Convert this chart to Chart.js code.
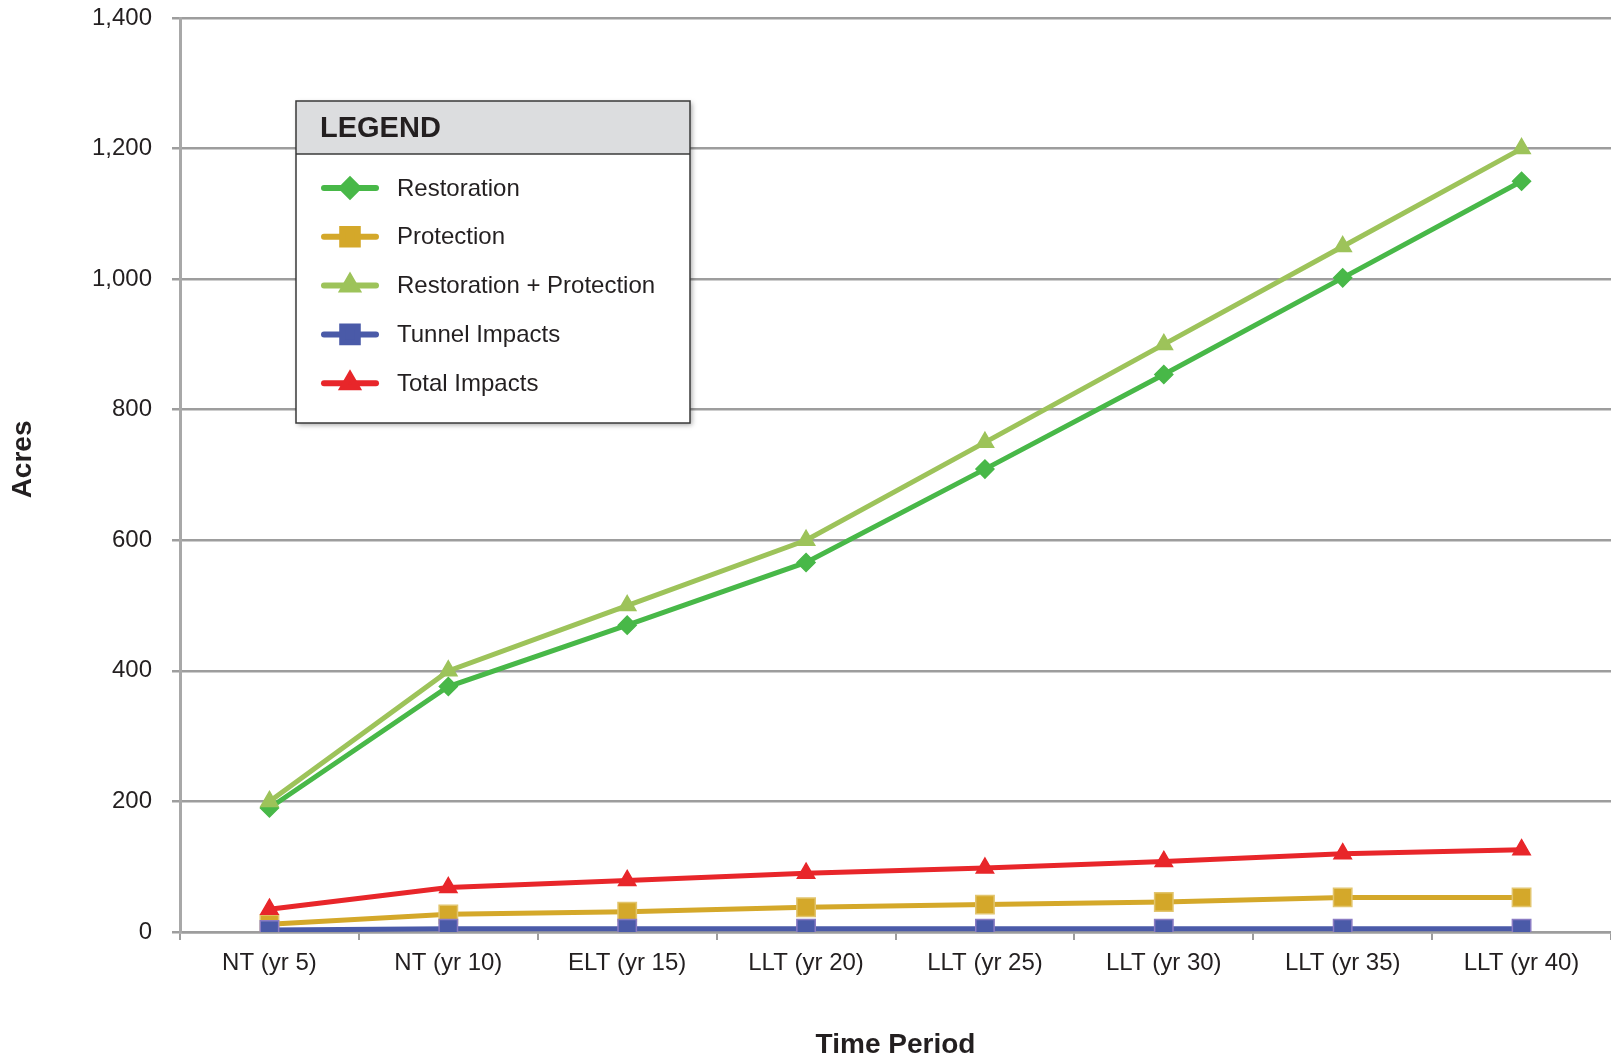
<!DOCTYPE html>
<html lang="en">
<head>
    <meta charset="UTF-8">
    <title>Acres by Time Period</title>
    <script src="https://cdn.jsdelivr.net/npm/chart.js"></script>
    <style>
        html, body { margin: 0; padding: 0; background: #fff; overflow: hidden; }
        .chart-container { position: relative; width: 1611px; height: 1060px; }
    </style>
</head>
<body>
    <div class="chart-container">
        <canvas id="acresChart"></canvas>
    </div>

    <script>
        // categories (x axis)
        const timePeriods = ['NT (yr 5)', 'NT (yr 10)', 'ELT (yr 15)', 'LLT (yr 20)', 'LLT (yr 25)', 'LLT (yr 30)', 'LLT (yr 35)', 'LLT (yr 40)'];

        // series values (acres)
        const restoration = [190, 376, 470, 566, 709, 854, 1002, 1150];
        const protection = [12, 27, 31, 38, 42, 46, 53, 53];
        const restorationPlusProtection = [200, 400, 500, 600, 750, 900, 1050, 1200];
        const tunnelImpacts = [3, 5, 5, 5, 5, 5, 5, 5];
        const totalImpacts = [35, 68, 79, 90, 98, 108, 120, 126];

        // y axis range / step
        const yTicks = [0, 200, 400, 600, 800, 1000, 1200, 1400];

        const FONT = '"Liberation Sans", Arial, Helvetica, sans-serif';
        const TEXT = '#231f20';
        const GRID = '#9d9d9d';

        Chart.defaults.font.family = FONT;
        Chart.defaults.color = TEXT;

        // Boxed legend with a grey "LEGEND" header, drawn from the datasets
        const legendBox = {
            id: 'legendBox',
            afterDraw(chart) {
                const ctx = chart.ctx;
                const left = 296, top = 101, w = 394, h = 322, headerH = 53;

                ctx.save();
                ctx.shadowColor = 'rgba(0,0,0,0.35)';
                ctx.shadowBlur = 5;
                ctx.shadowOffsetX = 2;
                ctx.shadowOffsetY = 2;
                ctx.fillStyle = '#ffffff';
                ctx.fillRect(left, top, w, h);
                ctx.restore();

                ctx.save();
                ctx.fillStyle = '#dcdddf';
                ctx.fillRect(left, top, w, headerH);
                ctx.strokeStyle = '#3a3a3a';
                ctx.lineWidth = 1.5;
                ctx.strokeRect(left, top, w, h);
                ctx.beginPath();
                ctx.moveTo(left, top + headerH);
                ctx.lineTo(left + w, top + headerH);
                ctx.stroke();

                ctx.fillStyle = TEXT;
                ctx.font = 'bold 29px ' + FONT;
                ctx.textBaseline = 'middle';
                ctx.fillText('LEGEND', left + 24, top + 28);

                ctx.font = '24px ' + FONT;
                chart.data.datasets.forEach((ds, i) => {
                    const y = 188 + i * 48.8;
                    ctx.strokeStyle = ds.borderColor;
                    ctx.lineWidth = 6;
                    ctx.lineCap = 'round';
                    ctx.beginPath();
                    ctx.moveTo(324, y);
                    ctx.lineTo(376, y);
                    ctx.stroke();

                    ctx.fillStyle = ds.pointBackgroundColor;
                    ctx.strokeStyle = ds.pointBackgroundColor;
                    Chart.helpers.drawPoint(ctx, {
                        pointStyle: ds.pointStyle,
                        radius: ds.pointStyle === 'rect' ? 11 : 8,
                        rotation: 0,
                        borderWidth: 1
                    }, 350, y);

                    ctx.fillStyle = TEXT;
                    ctx.fillText(ds.label, 397, y + 1);
                });
                ctx.restore();
            }
        };

        function series(label, data, color, style, radius, order, border) {
            return {
                label: label,
                data: data,
                borderColor: color,
                backgroundColor: color,
                pointBackgroundColor: color,
                pointBorderColor: border || color,
                pointBorderWidth: 1.5,
                pointStyle: style,
                pointRadius: radius,
                borderWidth: 5,
                tension: 0,
                fill: false,
                order: order
            };
        }

        // drop the extra room Chart.js keeps for the end labels, so the plot fills the page edges
        function noEdgePadding(scale) {
            scale.paddingTop = 0;
            scale.paddingBottom = 0;
            scale.paddingLeft = 0;
            scale.paddingRight = 0;
        }

        const ctx = document.getElementById('acresChart').getContext('2d');
        new Chart(ctx, {
            type: 'line',
            data: {
                labels: timePeriods,
                datasets: [
                    series('Restoration', restoration, '#48b848', 'rectRot', 9, 1),
                    series('Protection', protection, '#d4a82a', 'rect', 13, 3, '#e2c56e'),
                    series('Restoration + Protection', restorationPlusProtection, '#9dc35a', 'triangle', 10, 0),
                    series('Tunnel Impacts', tunnelImpacts, '#4a5aa8', 'rect', 13, 2, '#8a7cc4'),
                    series('Total Impacts', totalImpacts, '#e8262a', 'triangle', 10, 0)
                ]
            },
            options: {
                responsive: true,
                maintainAspectRatio: false,
                animation: false,
                events: [],
                layout: {
                    autoPadding: false,
                    padding: { top: 18, right: 0, left: 0, bottom: 0 }
                },
                plugins: {
                    legend: { display: false },
                    tooltip: { enabled: false }
                },
                scales: {
                    x: {
                        offset: true,
                        grid: {
                            offset: true,
                            drawOnChartArea: false,
                            drawTicks: true,
                            tickLength: 8,
                            color: GRID,
                            lineWidth: 2
                        },
                        border: { color: GRID, width: 2.5 },
                        ticks: {
                            font: { size: 24 },
                            color: TEXT,
                            padding: 9,
                            maxRotation: 0,
                            autoSkip: false
                        },
                        title: {
                            display: true,
                            text: 'Time Period',
                            font: { size: 28, weight: 'bold', lineHeight: 1 },
                            color: TEXT,
                            padding: { top: 0, bottom: 1 }
                        },
                        afterFit(scale) {
                            scale.height = 128;
                            noEdgePadding(scale);
                        }
                    },
                    y: {
                        min: yTicks[0],
                        max: yTicks[yTicks.length - 1],
                        grid: {
                            color: GRID,
                            lineWidth: 2.5,
                            drawTicks: true,
                            tickLength: 8
                        },
                        border: { color: '#a8a8a8', width: 3 },
                        ticks: {
                            stepSize: yTicks[1] - yTicks[0],
                            font: { size: 24 },
                            color: TEXT,
                            padding: 20,
                            callback: v => v.toLocaleString('en-US')
                        },
                        title: {
                            display: true,
                            // leading spaces nudge the word a little above the middle, as in the original
                            text: '\u00a0\u00a0\u00a0\u00a0Acres',
                            font: { size: 28, weight: 'bold', lineHeight: 1 },
                            color: TEXT,
                            padding: { top: 9, bottom: 0 }
                        },
                        afterFit(scale) {
                            scale.width = 180;
                            noEdgePadding(scale);
                        }
                    }
                }
            },
            plugins: [legendBox]
        });
    </script>
</body>
</html>
